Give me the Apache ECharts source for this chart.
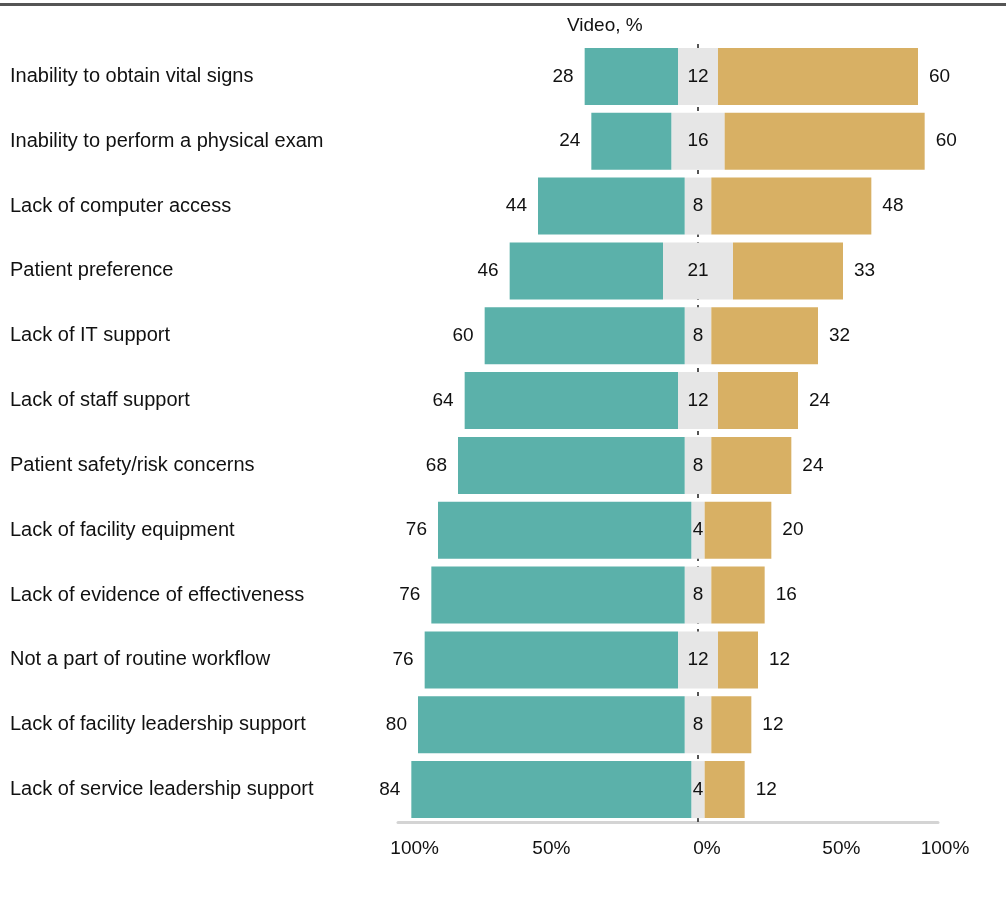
<!DOCTYPE html>
<html>
<head>
<meta charset="utf-8">
<script src="https://cdn.jsdelivr.net/npm/echarts@6/dist/echarts.min.js"></script>
<style>
  html, body { margin: 0; padding: 0; background: #fff; }
  #chart { width: 1006px; height: 899px; }
</style>
</head>
<body>
<div id="chart"></div>
<script>
const categories = [
  "Inability to obtain vital signs",
  "Inability to perform a physical exam",
  "Lack of computer access",
  "Patient preference",
  "Lack of IT support",
  "Lack of staff support",
  "Patient safety/risk concerns",
  "Lack of facility equipment",
  "Lack of evidence of effectiveness",
  "Not a part of routine workflow",
  "Lack of facility leadership support",
  "Lack of service leadership support",
];
const disagree = [28, 24, 44, 46, 60, 64, 68, 76, 76, 76, 80, 84];
const neutral = [12, 16, 8, 21, 8, 12, 8, 4, 8, 12, 8, 4];
const agree = [60, 60, 48, 33, 32, 24, 24, 20, 16, 12, 12, 12];
const xTickLabels = ["100%", "50%", "0%", "50%", "100%"];
const xTickValues = [-85, -44, 0, 43, 72];

const chart = echarts.init(document.getElementById("chart"));
const font = "Liberation Sans, Arial, sans-serif";
const teal = "#5bb1aa";
const gold = "#d8b064";
const grey = "#e6e6e6";
const ink = "#111";

const option = {
  animation: false,
  textStyle: { fontFamily: font },
  title: {
    text: "Video, %",
    left: 562,
    top: 11,
    textStyle: { fontFamily: font, fontSize: 19, fontWeight: "normal", color: ink },
  },
  graphic: [
    {
      type: "rect",
      shape: { x: 0, y: 3, width: 1006, height: 3 },
      style: { fill: "#555" },
    },
  ],
  grid: { left: 398, right: 68, top: 44, bottom: 77 },
  xAxis: {
    type: "value",
    min: -90,
    max: 72,
    splitLine: { show: false },
    axisTick: { show: false },
    axisLine: { show: true, lineStyle: { color: "#d4d4d4", width: 3 } },
    axisLabel: {
      customValues: xTickValues,
      margin: 17,
      fontSize: 19,
      color: ink,
      formatter: (v) => {
        const i = xTickValues.indexOf(v);
        if (i < 0) return "";
        if (i === 2) return "{m|" + xTickLabels[i] + "}";
        if (i === xTickValues.length - 1) return "{r|" + xTickLabels[i] + "}";
        return xTickLabels[i];
      },
      rich: {
        m: { fontSize: 19, color: ink, padding: [0, 0, 0, 18] },
        r: { fontSize: 19, color: ink, padding: [0, 0, 0, 14] },
      },
    },
  },
  yAxis: {
    type: "category",
    data: categories,
    inverse: true,
    axisLine: { show: false },
    axisTick: { show: false },
    axisLabel: { align: "left", margin: 388, fontSize: 20, color: ink },
  },
  series: [
    {
      name: "neutralLeft",
      type: "bar",
      stack: "likert",
      barCategoryGap: "12%",
      itemStyle: { color: grey },
      data: neutral.map((v) => -v / 2),
      z: 2,
    },
    {
      name: "neutralRight",
      type: "bar",
      stack: "likert",
      itemStyle: { color: grey },
      data: neutral.map((v) => v / 2),
      z: 2,
      markLine: {
        silent: true,
        z: 1,
        symbol: "none",
        label: { show: false },
        lineStyle: { color: "#555", width: 2, type: [4, 5] },
        data: [{ xAxis: 0 }],
      },
    },
    {
      name: "disagree",
      type: "bar",
      stack: "likert",
      itemStyle: { color: teal },
      data: disagree.map((v) => -v),
      z: 2,
      label: {
        show: true,
        position: "left",
        distance: 11,
        fontSize: 19,
        color: ink,
        formatter: (p) => disagree[p.dataIndex],
      },
    },
    {
      name: "agree",
      type: "bar",
      stack: "likert",
      itemStyle: { color: gold },
      data: agree,
      z: 2,
      label: {
        show: true,
        position: "right",
        distance: 11,
        fontSize: 19,
        color: ink,
      },
    },
    {
      name: "neutralLabel",
      type: "scatter",
      symbolSize: 0,
      z: 3,
      itemStyle: { opacity: 1 },
      data: neutral.map((v, i) => [0, i]),
      label: {
        show: true,
        position: "inside",
        fontSize: 19,
        color: ink,
        opacity: 1,
        formatter: (p) => neutral[p.dataIndex],
      },
    },
  ],
};
chart.setOption(option);
</script>
</body>
</html>
